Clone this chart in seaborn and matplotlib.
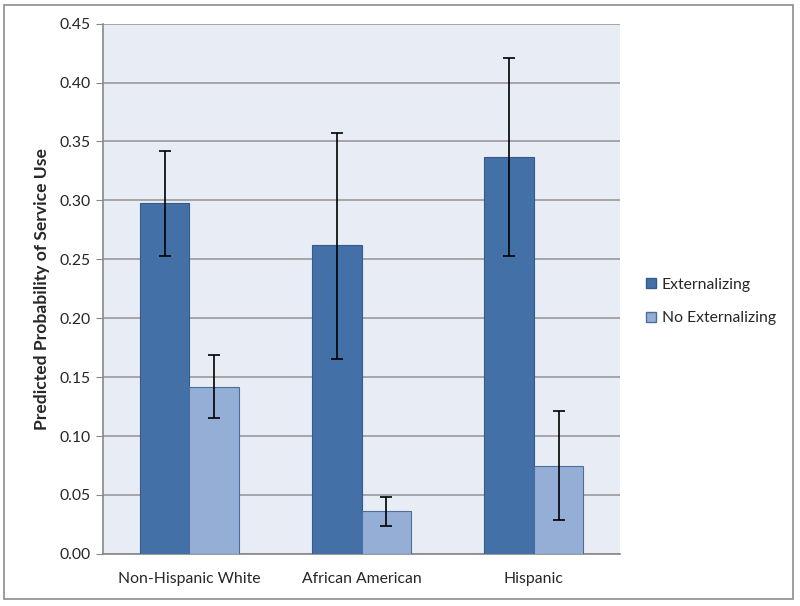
import pandas as pd
import matplotlib.pyplot as plt
import seaborn as sns
from matplotlib.patches import Rectangle

groups = ['Non-Hispanic White', 'African American', 'Hispanic']
series = ['Externalizing', 'No Externalizing']
ext = [0.298, 0.262, 0.337]
ext_lo = [0.253, 0.165, 0.253]
ext_hi = [0.342, 0.357, 0.421]
noext = [0.142, 0.036, 0.075]
noext_lo = [0.115, 0.024, 0.029]
noext_hi = [0.169, 0.048, 0.121]
yticks = [0.00, 0.05, 0.10, 0.15, 0.20, 0.25, 0.30, 0.35, 0.40, 0.45]

df = pd.DataFrame({
    'group': groups * 2,
    'series': [series[0]] * 3 + [series[1]] * 3,
    'value': ext + noext,
})

sns.set_style('white')
plt.rcParams['font.family'] = ['Lato', 'DejaVu Sans']

fig = plt.figure(figsize=(8, 6.06), dpi=100)
ax = fig.add_axes([0.129, 0.086, 0.646, 0.875])
ax.set_facecolor('#E8EDF5')

colors = ['#4470A8', '#95AED5']
edges = ['#36598A', '#4B6E9E']
sns.barplot(data=df, x='group', y='value', hue='series', order=groups,
            hue_order=series, palette=colors, width=0.574, errorbar=None,
            saturation=1, ax=ax, zorder=3)

# error bars at the centre of each bar
los = [ext_lo, noext_lo]
his = [ext_hi, noext_hi]
vals = [ext, noext]
bar_conts = list(ax.containers)[:2]
for i, cont in enumerate(bar_conts):
    xs = []
    for bar in cont.patches:
        bar.set_edgecolor(edges[i])
        bar.set_linewidth(0.8)
        xs.append(bar.get_x() + bar.get_width() / 2)
    lo = [v - l for v, l in zip(vals[i], los[i])]
    hi = [h - v for v, h in zip(vals[i], his[i])]
    ax.errorbar(xs, vals[i], yerr=[lo, hi], fmt='none', ecolor='black',
                elinewidth=1.2, capsize=4, capthick=1.2, zorder=4)

ax.set_ylim(0, 0.45)
ax.set_xlim(-0.5, 2.5)
ax.set_yticks(yticks)
ax.set_yticklabels([f'{t:.2f}' for t in yticks], fontsize=11.3)
ax.set_xticks(range(3))
ax.set_xticklabels(groups, fontsize=11.3)
ax.tick_params(axis='x', which='both', length=0, pad=13)
ax.tick_params(axis='y', length=5, color='#888888', direction='out', left=True, pad=4)
ax.grid(axis='y', color='#9A9A9A', linewidth=1.2, zorder=0)
ax.set_axisbelow(True)
for s in ['top', 'right']:
    ax.spines[s].set_visible(False)
ax.spines['left'].set_color('#888888')
ax.spines['bottom'].set_color('#888888')
ax.spines['left'].set_linewidth(1.2)
ax.spines['bottom'].set_linewidth(1.2)
ax.set_xlabel('')
ax.set_ylabel('Predicted Probability of Service Use', fontsize=12.6,
              fontweight='bold', labelpad=7)

leg = ax.legend(loc='center left', bbox_to_anchor=(0.790, 0.5025),
                bbox_transform=fig.transFigure, frameon=False,
                fontsize=11.3, handlelength=0.65, handleheight=0.65,
                labelspacing=1.25, handletextpad=0.35)
for h, e in zip(leg.legend_handles, edges):
    h.set_edgecolor(e)

fig.patches.append(Rectangle((0.005, 0.0116), 0.986, 0.980, transform=fig.transFigure,
                             fill=False, edgecolor='#8C8C8C', linewidth=1.2))

fig.savefig('out.png', dpi=100)
